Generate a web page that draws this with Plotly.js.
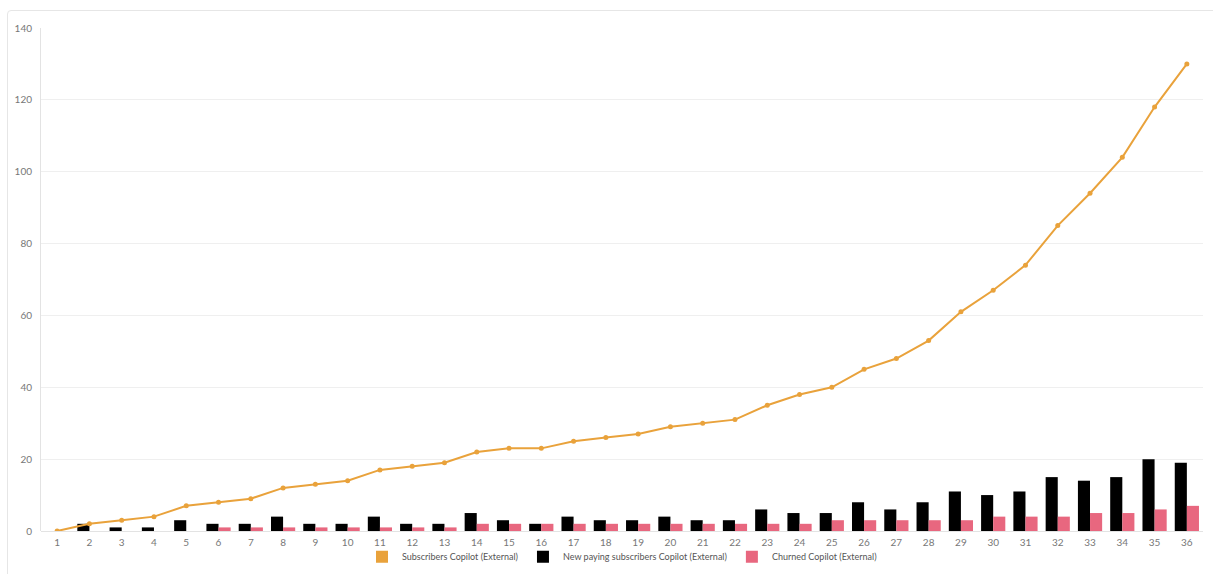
<!DOCTYPE html>
<html>
<head>
<meta charset="utf-8">
<script src="https://cdn.plot.ly/plotly-3.0.1.min.js"></script>
<style>
  html, body { margin: 0; padding: 0; background: #fff; overflow: hidden; }
  #card { position: absolute; left: 7px; top: 10px; width: 1220px; height: 580px;
          border: 1px solid #e6e6e6; border-radius: 4px; box-sizing: border-box; }
  #chart { position: absolute; left: 0; top: 0; width: 1213px; height: 574px; }
</style>
</head>
<body>
<div id="card"></div>
<div id="chart"></div>
<script>
const months = ["1","2","3","4","5","6","7","8","9","10","11","12","13","14","15","16","17","18",
  "19","20","21","22","23","24","25","26","27","28","29","30","31","32","33","34","35","36"];
const subscribers = [0,2,3,4,7,8,9,12,13,14,17,18,19,22,23,23,25,26,27,29,30,31,35,38,40,45,48,53,61,67,74,85,94,104,118,130];
const newPaying = [0,2,1,1,3,2,2,4,2,2,4,2,2,5,3,2,4,3,3,4,3,3,6,5,5,8,6,8,11,10,11,15,14,15,20,19];
const churned = [0,0,0,0,0,1,1,1,1,1,1,1,1,2,2,2,2,2,2,2,2,2,2,2,3,3,3,3,3,4,4,4,5,5,6,7];

const orange = "#E9A23B", black = "#000000", pink = "#E8677F";

const traces = [
  { type: "bar", x: months, y: newPaying, name: "New paying subscribers Copilot (External)",
    marker: { color: black }, legendrank: 2 },
  { type: "bar", x: months, y: churned, name: "Churned Copilot (External)",
    marker: { color: pink }, legendrank: 3 },
  { type: "scatter", mode: "lines+markers", x: months, y: subscribers,
    name: "Subscribers Copilot (External)", showlegend: false, legendgroup: "subs",
    line: { color: orange, width: 2 }, marker: { color: orange, size: 5 } },
  { type: "scatter", mode: "markers", x: [null], y: [null], name: "Subscribers Copilot (External)",
    legendgroup: "subs", marker: { color: orange, symbol: "square", size: 12 },
    legendrank: 1, hoverinfo: "skip" }
];

const layout = {
  width: 1213, height: 574,
  margin: { l: 41, r: 10, t: 28, b: 43, autoexpand: false },
  paper_bgcolor: "rgba(0,0,0,0)", plot_bgcolor: "rgba(0,0,0,0)",
  font: { family: "Lato, 'Noto Sans', sans-serif", size: 10, color: "#666" },
  barmode: "group", bargap: 0.25, bargroupgap: 0,
  xaxis: { type: "category", tickfont: { size: 10, color: "#777" }, showgrid: false,
           showline: false, ticks: "", zeroline: false, range: [-0.5, 35.5], automargin: false,
           ticklabelstandoff: 4 },
  yaxis: { range: [0, 140], dtick: 20, tickfont: { size: 10, color: "#777" },
           gridcolor: "#efefef", gridwidth: 1, showline: true, linecolor: "#e3e3e3",
           zeroline: true, zerolinecolor: "#e3e3e3", ticks: "", ticklabelstandoff: 6, automargin: false },
  legend: { orientation: "h", x: 0.5, xanchor: "center", yref: "container", y: 0.03, yanchor: "middle",
            font: { size: 9, color: "#555" }, itemwidth: 30, traceorder: "normal",
            itemclick: false },
  showlegend: true
};

Plotly.newPlot("chart", traces, layout, { displayModeBar: false, staticPlot: true });
</script>
</body>
</html>
